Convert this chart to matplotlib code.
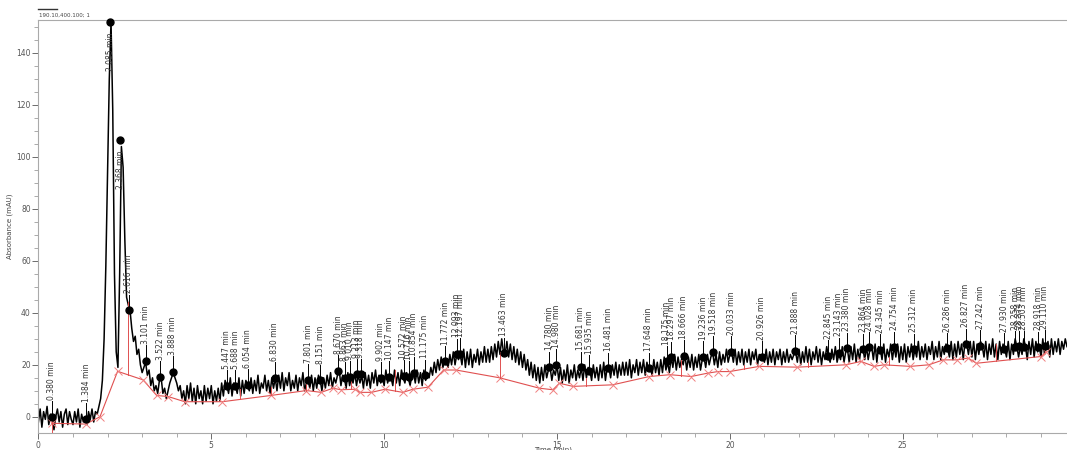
#chromatogram with integrated peaks
import numpy as np
import matplotlib.pyplot as plt

# signal, sampled every 0.05 min (one row per minute)
trace = [
    -2, 3, -4, 2, -1, 4, -3, 1, 0, -5, 0, 3, -2, 2, -4, 1, 3, -3, 2, -1,
    -3, 2, -2, 3, -4, 1, -2, 0, -3, 2, -1, 3, -2, 2, 1, 4, 7, 14, 30, 58,
    95, 130, 152, 118, 55, 25, 19, 55, 104, 96, 68, 46, 43, 41, 34, 29, 31, 24, 26, 20,
    17, 19, 21, 16, 18, 12, 15, 10, 12, 9, 14, 15, 9, 11, 7, 10, 13, 15, 17, 15,
    13, 10, 12, 7, 10, 5, 12, 7, 13, 6, 11, 5, 12, 7, 10, 5, 12, 6, 11, 7,
    12, 5, 10, 6, 11, 6, 13, 8, 14, 12, 9, 15, 8, 13, 12, 9, 15, 8, 14, 9,
    14, 12, 10, 15, 9, 14, 10, 16, 9, 13, 11, 16, 10, 14, 9, 15, 11, 15, 10, 16,
    11, 17, 10, 15, 12, 17, 10, 14, 11, 16, 10, 15, 12, 17, 10, 13, 14, 11, 16, 10,
    15, 11, 16, 14, 10, 15, 11, 16, 12, 17, 11, 15, 13, 16, 18, 12, 16, 15, 11, 17,
    12, 15, 13, 17, 12, 16, 13, 16, 11, 17, 12, 16, 11, 17, 13, 18, 12, 16, 13, 15,
    12, 18, 13, 16, 15, 12, 18, 13, 17, 12, 18, 15, 13, 17, 15, 12, 16, 17, 13, 18,
    13, 17, 12, 18, 14, 16, 15, 19, 16, 21, 17, 22, 18, 23, 19, 22, 21, 19, 24, 20,
    25, 20, 24, 22, 24, 20, 26, 19, 25, 20, 26, 19, 24, 21, 26, 20, 25, 21, 27, 21,
    26, 21, 27, 22, 28, 23, 29, 24, 30, 25, 24, 29, 23, 28, 22, 27, 21, 26, 20, 25,
    19, 24, 18, 22, 16, 21, 15, 20, 14, 19, 13, 19, 14, 20, 15, 18, 19, 14, 18, 16,
    20, 14, 19, 13, 18, 14, 20, 13, 18, 15, 20, 14, 18, 15, 19, 14, 20, 15, 19, 18,
    14, 20, 15, 19, 14, 20, 15, 21, 14, 19, 19, 15, 20, 16, 21, 15, 20, 16, 21, 16,
    21, 16, 22, 15, 20, 17, 22, 16, 21, 17, 22, 16, 21, 18, 19, 16, 22, 17, 21, 16,
    22, 17, 23, 18, 21, 17, 23, 19, 24, 18, 23, 19, 22, 20, 24, 18, 23, 19, 24, 18,
    23, 19, 24, 18, 22, 23, 19, 24, 20, 23, 25, 20, 24, 19, 25, 20, 24, 21, 26, 21,
    24, 25, 21, 26, 20, 25, 21, 26, 20, 25, 21, 26, 20, 25, 22, 26, 20, 24, 22, 23,
    21, 26, 20, 25, 21, 26, 20, 25, 22, 26, 20, 25, 21, 26, 21, 24, 22, 24, 25, 21,
    26, 20, 25, 21, 27, 21, 26, 20, 25, 22, 27, 21, 26, 20, 25, 22, 27, 23, 21, 26,
    22, 27, 21, 24, 22, 27, 21, 25, 26, 21, 27, 22, 28, 21, 26, 22, 27, 26, 22, 27,
    22, 26, 27, 22, 28, 21, 27, 26, 22, 28, 21, 26, 23, 28, 22, 27, 23, 28, 21, 27,
    22, 28, 21, 27, 23, 28, 22, 26, 23, 29, 22, 27, 23, 28, 22, 27, 24, 29, 22, 27,
    23, 29, 22, 27, 24, 28, 26, 23, 29, 22, 28, 23, 29, 24, 28, 22, 29, 28, 24, 29,
    23, 29, 22, 28, 24, 29, 27, 23, 29, 22, 28, 24, 30, 23, 28, 22, 29, 24, 28, 26,
    23, 29, 22, 28, 24, 30, 27, 23, 27, 24, 30, 27, 22, 29, 24, 30, 23, 29, 25, 27,
    23, 30, 24, 27, 29, 23, 30, 24, 29, 25, 30, 24, 29, 26, 30, 27,
]
time = np.arange(len(trace)) * 0.05

# detected peaks (retention time, apex height)
peak_t = [0.380, 1.384, 2.085, 2.368, 2.616, 3.101, 3.522, 3.888, 5.447, 5.688,
          6.054, 6.830, 7.801, 8.151, 8.670, 8.863, 9.010, 9.213, 9.318, 9.902,
          10.147, 10.572, 10.716, 10.854, 11.175, 11.772, 12.093, 12.197, 13.463, 14.780,
          14.980, 15.681, 15.935, 16.481, 17.648, 18.175, 18.297, 18.666, 19.236, 19.518,
          20.033, 20.926, 21.888, 22.845, 23.143, 23.380, 23.864, 24.028, 24.345, 24.754,
          25.312, 26.286, 26.827, 27.242, 27.930, 28.258, 28.374, 28.503, 28.918, 29.110]
peak_a = [0.0, -0.8, 152.0, 106.5, 41.0, 21.5, 15.4, 17.4, 12.0, 12.0,
          12.3, 15.1, 14.2, 14.0, 17.8, 15.0, 15.5, 16.3, 16.3, 15.1,
          15.4, 15.8, 15.3, 16.9, 16.0, 21.3, 24.1, 24.2, 24.5, 19.1,
          20.0, 19.1, 17.8, 18.7, 18.7, 21.3, 22.9, 23.5, 23.0, 25.1,
          25.1, 23.0, 25.4, 23.5, 24.5, 26.4, 26.0, 26.7, 25.8, 26.8,
          26.0, 26.3, 27.9, 27.4, 26.2, 27.0, 27.2, 27.0, 26.8, 27.3]

# integration baseline points
base_t = [0.38, 1.37, 1.78, 2.29, 3.03, 3.42, 3.75, 4.23, 5.32, 6.72, 7.75, 8.18,
          8.52, 8.75, 9.15, 9.30, 9.63, 10.02, 10.54, 10.83, 11.27, 11.72, 12.08, 13.34,
          14.49, 14.88, 15.07, 15.46, 16.61, 17.67, 18.27, 18.88, 19.36, 19.65, 19.99, 20.85,
          21.95, 23.35, 23.79, 24.17, 24.45, 25.22, 25.75, 26.17, 26.56, 26.89, 27.13, 29.00, 29.15]
base_a = [-2.5, -2.8, 0.0, 17.5, 14.2, 8.2, 7.8, 5.8, 5.8, 8.2, 10.1, 9.4,
          11.0, 10.4, 10.6, 9.4, 9.4, 10.6, 9.4, 10.6, 11.4, 18.0, 18.0, 15.0,
          11.0, 10.4, 12.9, 11.7, 12.3, 15.5, 16.2, 15.5, 16.8, 17.4, 17.4, 19.4,
          19.1, 20.0, 21.3, 19.4, 20.0, 19.4, 20.0, 21.9, 21.9, 22.6, 20.6, 23.2, 25.0]
drop_t = [0.38, 2.58, 5.83, 6.72, 7.75, 9.05, 10.30, 13.34, 15.85, 18.60, 20.40, 22.25, 24.60, 27.70]

fig = plt.figure(figsize=(10.67, 4.5), dpi=100)
ax = fig.add_axes([0.036, 0.038, 0.964, 0.917])

ax.plot(time, trace, color='black', lw=1.1, zorder=2)

red = '#e05050'
ax.plot(base_t, base_a, color=red, lw=0.8, zorder=3)
ax.plot(base_t, base_a, ls='none', marker='x', ms=6, mew=0.7, color='#f08080', zorder=3)
for t in drop_t:
    lo = np.interp(t, base_t, base_a)
    hi = np.interp(t, time, trace)
    if t < 1:
        lo, hi = -6, 0
    ax.plot([t, t], [lo, hi], color=red, lw=0.7, zorder=3)

ax.plot(peak_t, peak_a, ls='none', marker='o', ms=5, color='black', zorder=4, clip_on=False)

for t, a in zip(peak_t, peak_a):
    label = '%.3f min' % t
    if a > 60:
        ax.text(t, a - 4, label, rotation=90, ha='center', va='top', fontsize=5.5, color='#333333', zorder=5)
    else:
        ax.plot([t, t], [a, a + 6], color='black', lw=0.7, zorder=4)
        ax.text(t, a + 6.5, label, rotation=90, ha='center', va='bottom', fontsize=5.5, color='#333333', zorder=5)

ax.set_xlim(0, 29.75)
ax.set_ylim(-6.2, 152.6)
ax.set_xticks(np.arange(0, 30, 5))
ax.set_xticks(np.arange(0, 30, 1), minor=True)
ax.set_yticks(np.arange(0, 141, 20))
ax.set_yticks(np.arange(0, 151, 5), minor=True)
ax.tick_params(labelsize=5.5, colors='#555555', length=4, width=0.6, pad=1.5)
ax.tick_params(which='minor', length=3, width=0.5, colors='#888888')
for s in ['left', 'bottom', 'top']:
    ax.spines[s].set_color('#aaaaaa')
    ax.spines[s].set_linewidth(0.8)
ax.spines['right'].set_visible(False)

ax.set_ylabel('Absorbance (mAU)', fontsize=5, color='#444444')
ax.yaxis.set_label_coords(-0.025, 0.5)
ax.set_xlabel('Time (min)', fontsize=5, color='#444444')
ax.xaxis.set_label_coords(0.5, -0.033)

# signal legend above plot
fig.add_artist(plt.Line2D([0.036, 0.053], [0.98, 0.98], color='#333333', lw=1))
fig.text(0.037, 0.965, '190.10,400.100; 1', fontsize=4, color='#444444', va='center')

plt.savefig('out.png', dpi=100)
